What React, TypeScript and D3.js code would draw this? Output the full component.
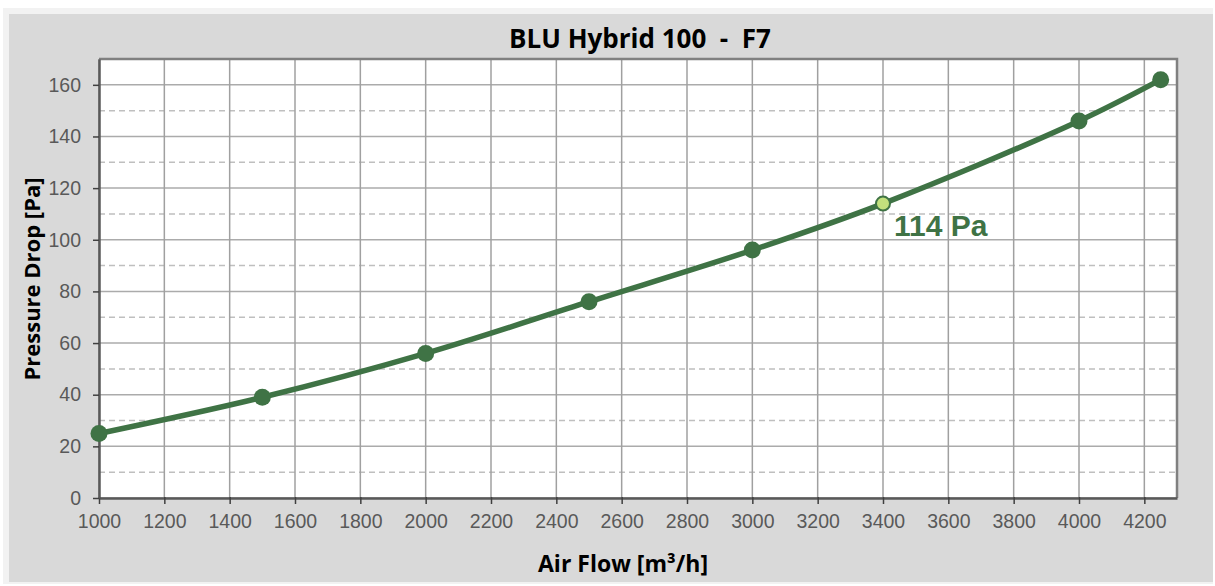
import React, { useEffect, useRef } from 'react';
import * as d3 from 'd3';

const airFlow = [1000, 1500, 2000, 2500, 3000, 3400, 4000, 4250];
const pressure = [25, 39, 56, 76, 96, 114, 146, 162];
const markerFlows = [1000, 1500, 2000, 2500, 3000, 4000, 4250];
const highlightFlow = 3400;
const highlightValue = 114;
const xTicks = d3.range(1000, 4201, 200);
const yTicks = d3.range(0, 161, 20);
const yMinor = d3.range(10, 160, 20);

export default function App() {
  const ref = useRef<SVGSVGElement>(null);

  useEffect(() => {
    const width = 1215;
    const height = 586;
    const margin = { top: 59, left: 99, bottom: 88, right: 38 };
    const iwidth = width - margin.left - margin.right;
    const iheight = height - margin.top - margin.bottom;
    const green = '#3f7345';
    const tickColor = '#595959';

    const svg = d3.select(ref.current).attr('width', width).attr('height', height);
    svg.selectAll('*').remove();

    svg.append('rect').attr('x', 3).attr('y', 8).attr('width', 1210).attr('height', 576).attr('fill', '#f2f2f2');
    svg.append('rect').attr('x', 9).attr('y', 14).attr('width', 1204).attr('height', 568).attr('fill', '#d9d9d9');

    const x = d3.scaleLinear().domain([1000, 4300]).range([0, iwidth]);
    const y = d3.scaleLinear().domain([0, 170]).range([iheight, 0]);

    const g = svg.append('g').attr('transform', `translate(${margin.left},${margin.top})`);
    g.append('rect').attr('width', iwidth).attr('height', iheight).attr('fill', '#fff');

    g.selectAll('.minor').data(yMinor).enter().append('line')
      .attr('x1', 0).attr('x2', iwidth)
      .attr('y1', d => y(d)).attr('y2', d => y(d))
      .attr('stroke', '#bfbfbf').attr('stroke-width', 1.5).attr('stroke-dasharray', '6,4');

    g.selectAll('.hmajor').data(yTicks).enter().append('line')
      .attr('x1', 0).attr('x2', iwidth)
      .attr('y1', d => y(d)).attr('y2', d => y(d))
      .attr('stroke', '#ababab').attr('stroke-width', 1.5);

    g.selectAll('.vmajor').data(xTicks).enter().append('line')
      .attr('x1', d => x(d)).attr('x2', d => x(d))
      .attr('y1', 0).attr('y2', iheight)
      .attr('stroke', '#a0a0a0').attr('stroke-width', 1.5);

    // border top/right
    g.append('path')
      .attr('d', `M0,0H${iwidth}V${iheight}`)
      .attr('fill', 'none').attr('stroke', '#808080').attr('stroke-width', 2.5);

    const xAxis = g.append('g').attr('transform', `translate(0,${iheight})`)
      .call(d3.axisBottom(x).tickValues(xTicks).tickFormat(d3.format('d')).tickSize(6).tickSizeOuter(0).tickPadding(10));
    const yAxis = g.append('g')
      .call(d3.axisLeft(y).tickValues(yTicks).tickFormat(d3.format('d')).tickSize(6).tickSizeOuter(0).tickPadding(12));
    [xAxis, yAxis].forEach(a => {
      a.select('.domain').attr('stroke', tickColor).attr('stroke-width', 2.5);
      a.selectAll('.tick line').attr('stroke', '#404040').attr('stroke-width', 1.5);
      a.selectAll('.tick text')
        .attr('fill', tickColor)
        .style('font-family', 'Liberation Sans, Arial, sans-serif')
        .style('font-size', '19.5px');
    });
    xAxis.selectAll('.tick line').attr('y1', -1);

    const line = d3.line<number>()
      .x((_, i) => x(airFlow[i]))
      .y(d => y(d))
      .curve(d3.curveCatmullRom.alpha(0.5));

    g.append('path').datum(pressure)
      .attr('d', line)
      .attr('fill', 'none').attr('stroke', green).attr('stroke-width', 5.5)
      .attr('stroke-linejoin', 'round');

    g.selectAll('.marker').data(markerFlows).enter().append('circle')
      .attr('cx', d => x(d))
      .attr('cy', d => y(pressure[airFlow.indexOf(d)]))
      .attr('r', 8.5)
      .attr('fill', green);

    g.append('circle')
      .attr('cx', x(highlightFlow)).attr('cy', y(highlightValue))
      .attr('r', 7).attr('fill', '#c2e07d').attr('stroke', green).attr('stroke-width', 2);

    g.append('text')
      .attr('x', x(highlightFlow) + 11).attr('y', y(highlightValue) + 32)
      .attr('fill', green)
      .attr('font-family', 'Liberation Sans, Arial, sans-serif')
      .attr('font-weight', 'bold').attr('font-size', 30)
      .text(`${highlightValue} Pa`);

    svg.append('text')
      .attr('x', 640).attr('y', 48)
      .attr('text-anchor', 'middle')
      .attr('font-family', 'Open Sans, sans-serif').attr('font-weight', 'bold')
      .attr('font-size', 26).attr('fill', '#000')
      .attr('xml:space', 'preserve')
      .text('BLU Hybrid 100  -  F7');

    svg.append('text')
      .attr('x', 623).attr('y', 572)
      .attr('text-anchor', 'middle')
      .attr('font-family', 'Open Sans, sans-serif').attr('font-weight', 'bold')
      .attr('font-size', 23).attr('fill', '#000')
      .text('Air Flow [m³/h]');

    svg.append('text')
      .attr('transform', `translate(40,279) rotate(-90)`)
      .attr('text-anchor', 'middle')
      .attr('font-family', 'Open Sans, sans-serif').attr('font-weight', 'bold')
      .attr('font-size', 22).attr('fill', '#000')
      .text('Pressure Drop [Pa]');
  }, []);

  return (
    <div style={{ position: 'absolute', left: 0, top: 0 }}>
      <svg ref={ref} style={{ display: 'block' }}></svg>
    </div>
  );
}
